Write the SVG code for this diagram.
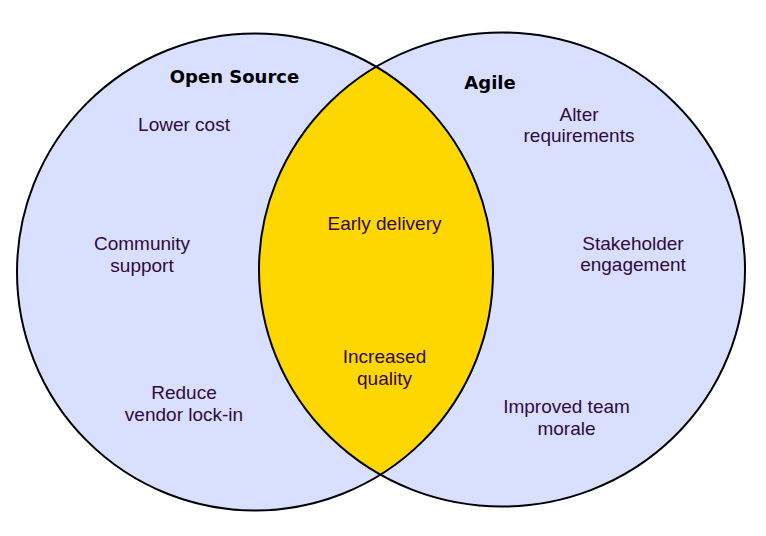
<svg xmlns="http://www.w3.org/2000/svg" width="766" height="536" viewBox="0 0 766 536">
  <style>
    .set { fill: #d9dffe; stroke: none; }
    .edge { fill: none; stroke: #000; stroke-width: 2; }
    .lens { fill: #ffd700; stroke: none; }
    .title { font-family: "DejaVu Sans", sans-serif; font-weight: bold; font-size: 18px; fill: #000; text-anchor: middle; }
    .item { font-family: "Liberation Sans", Arial, sans-serif; font-size: 19px; fill: #300a40; text-anchor: middle; }
  </style>
  <defs>
    <clipPath id="clipLeft">
      <ellipse cx="255" cy="272" rx="238" ry="238.5"/>
    </clipPath>
  </defs>
  <rect width="766" height="536" fill="#fff"/>
  <g id="open-source">
    <ellipse class="set" cx="255" cy="272" rx="238" ry="238.5"/>
  </g>
  <g id="agile">
    <ellipse class="set" cx="502" cy="269.5" rx="243" ry="237"/>
  </g>
  <g id="overlap">
    <ellipse class="lens" cx="502" cy="269.5" rx="243" ry="237" clip-path="url(#clipLeft)"/>
  </g>
  <g id="outlines">
    <ellipse class="edge" cx="255" cy="272" rx="238" ry="238.5"/>
    <ellipse class="edge" cx="502" cy="269.5" rx="243" ry="237"/>
  </g>
  <g id="labels-open-source">
    <text class="title" x="234.5" y="83">Open Source</text>
    <text class="item" x="184" y="131">Lower cost</text>
    <text class="item" x="142" y="250">Community</text>
    <text class="item" x="142" y="272">support</text>
    <text class="item" x="184" y="399">Reduce</text>
    <text class="item" x="184" y="421">vendor lock-in</text>
  </g>
  <g id="labels-agile">
    <text class="title" x="490" y="88.5">Agile</text>
    <text class="item" x="579" y="121">Alter</text>
    <text class="item" x="579" y="142">requirements</text>
    <text class="item" x="633" y="249.5">Stakeholder</text>
    <text class="item" x="633" y="271">engagement</text>
    <text class="item" x="566.5" y="413">Improved team</text>
    <text class="item" x="566.5" y="435">morale</text>
  </g>
  <g id="labels-overlap">
    <text class="item" x="384.5" y="230">Early delivery</text>
    <text class="item" x="384.5" y="363">Increased</text>
    <text class="item" x="384.5" y="385">quality</text>
  </g>
</svg>
